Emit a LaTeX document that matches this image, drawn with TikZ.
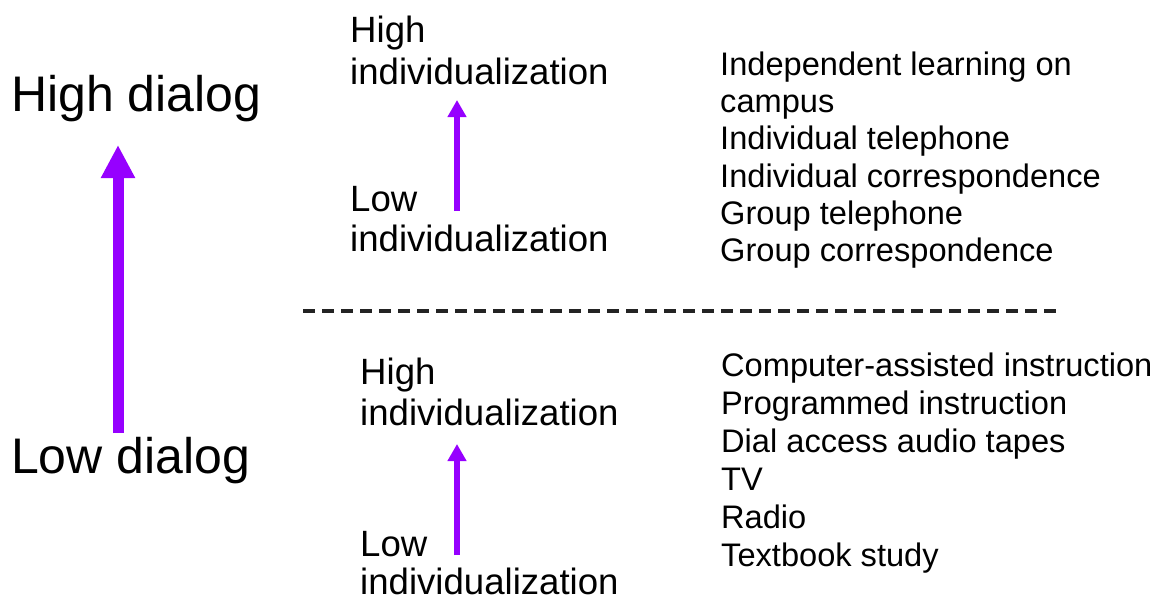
\documentclass[tikz,border=0pt]{standalone}
\usepackage{fontspec}
\setmainfont{Liberation Sans}
\usetikzlibrary{arrows.meta}

\definecolor{violetarrow}{RGB}{150,0,255}
\definecolor{rulegray}{RGB}{35,35,35}

\begin{document}
\begin{tikzpicture}[x=1pt,y=-1pt,
  bigtxt/.style={anchor=base west,inner sep=0pt,font=\fontsize{50}{58}\selectfont},
  midtxt/.style={anchor=base west,inner sep=0pt,font=\fontsize{36.6}{42}\selectfont},
  listtxt/.style={anchor=base west,inner sep=0pt,font=\fontsize{32.6}{38}\selectfont},
  bigarrow/.style={draw=violetarrow,line width=11pt,
    -{Triangle[width=32pt,length=33pt,fill=violetarrow]}},
  smallarrow/.style={draw=violetarrow,line width=6pt,
    -{Triangle[width=18pt,length=17pt,fill=violetarrow]}},
  divider/.style={draw=rulegray,line width=3.2pt,dash pattern=on 12pt off 7pt}]

\useasboundingbox (0,0) rectangle (1162,600);

% dialog axis
\node[bigtxt] (hidlg) at (11,111) {High dialog};
\node[bigtxt] (lodlg) at (11,473) {Low dialog};
\coordinate (dlgbot) at (118,433);
\coordinate (dlgtop) at (118,145);
\draw[bigarrow] (dlgbot) -- (dlgtop);

% upper half: individualization scale
\node[midtxt] (uhi1) at (350,42) {High};
\node[midtxt] (uhi2) at (350,84) {individualization};
\node[midtxt] (ulo1) at (350,211) {Low};
\node[midtxt] (ulo2) at (350,251) {individualization};
\coordinate (uarrbot) at (457,211);
\coordinate (uarrtop) at (457,100);
\draw[smallarrow] (uarrbot) -- (uarrtop);

% upper half: media list
\node[listtxt] (u1) at (720,75)  {Independent learning on};
\node[listtxt] (u2) at (720,112) {campus};
\node[listtxt] (u3) at (720,149) {Individual telephone};
\node[listtxt] (u4) at (720,187) {Individual correspondence};
\node[listtxt] (u5) at (720,224) {Group telephone};
\node[listtxt] (u6) at (720,261) {Group correspondence};

% separator
\coordinate (divl) at (303,311);
\coordinate (divr) at (1060,311);
\draw[divider] (divl) -- (divr);

% lower half: individualization scale
\node[midtxt] (lhi1) at (360,384) {High};
\node[midtxt] (lhi2) at (360,425) {individualization};
\node[midtxt] (llo1) at (360,556) {Low};
\node[midtxt] (llo2) at (360,594) {individualization};
\coordinate (larrbot) at (457,555);
\coordinate (larrtop) at (457,444);
\draw[smallarrow] (larrbot) -- (larrtop);

% lower half: media list
\node[listtxt] (l1) at (721,376) {Computer-assisted instruction};
\node[listtxt] (l2) at (721,414) {Programmed instruction};
\node[listtxt] (l3) at (721,452) {Dial access audio tapes};
\node[listtxt] (l4) at (721,490) {TV};
\node[listtxt] (l5) at (721,528) {Radio};
\node[listtxt] (l6) at (721,566) {Textbook study};

\end{tikzpicture}
\end{document}
